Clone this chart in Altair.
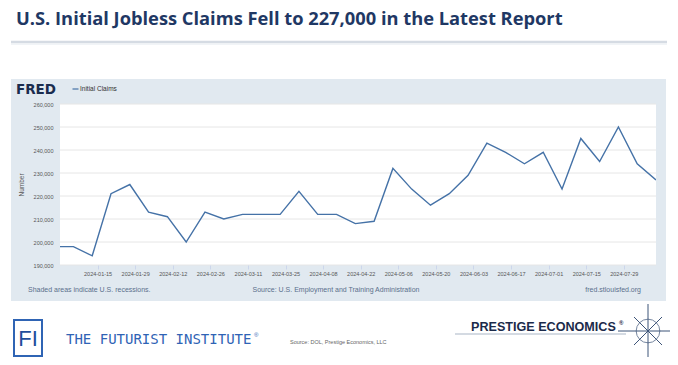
import altair as alt
import pandas as pd

# ---- data ----
dates = ["2023-12-30", "2024-01-06", "2024-01-13", "2024-01-20", "2024-01-27",
         "2024-02-03", "2024-02-10", "2024-02-17", "2024-02-24", "2024-03-02",
         "2024-03-09", "2024-03-16", "2024-03-23", "2024-03-30", "2024-04-06",
         "2024-04-13", "2024-04-20", "2024-04-27", "2024-05-04", "2024-05-11",
         "2024-05-18", "2024-05-25", "2024-06-01", "2024-06-08", "2024-06-15",
         "2024-06-22", "2024-06-29", "2024-07-06", "2024-07-13", "2024-07-20",
         "2024-07-27", "2024-08-03", "2024-08-10"]
claims = [198000, 198000, 194000, 221000, 225000,
          213000, 211000, 200000, 213000, 210000,
          212000, 212000, 212000, 222000, 212000,
          212000, 208000, 209000, 232000, 223000,
          216000, 221000, 229000, 243000, 239000,
          234000, 239000, 223000, 245000, 235000,
          250000, 234000, 227000]
y_ticks = [190000, 200000, 210000, 220000, 230000, 240000, 250000, 260000]
x_ticks = ["2024-01-15", "2024-01-29", "2024-02-12", "2024-02-26", "2024-03-11",
           "2024-03-25", "2024-04-08", "2024-04-22", "2024-05-06", "2024-05-20",
           "2024-06-03", "2024-06-17", "2024-07-01", "2024-07-15", "2024-07-29"]
x_domain = ["2024-01-01", "2024-08-10"]

title_text = "U.S. Initial Jobless Claims Fell to 227,000 in the Latest Report"


def dt(s):
    y, m, d = (int(p) for p in s.split("-"))
    return alt.DateTime(year=y, month=m, date=d, utc=True)


df = pd.DataFrame({"date": dates, "claims": claims})
grid_df = pd.DataFrame({"v": y_ticks})

W, H = 596, 161
SANS = "Liberation Sans, Arial, sans-serif"
PANEL = "#e1e9f0"
one = alt.Data(values=[{"k": 1}])


def txt(s, x, y, size, color, weight="normal", align="left", baseline="middle",
        font=SANS):
    return alt.Chart(one).mark_text(
        align=align, baseline=baseline, font=font, fontSize=size,
        color=color, fontWeight=weight
    ).encode(x=alt.value(x), y=alt.value(y), text=alt.value(s))


def rule(x, x2, y, y2, color, w=1.0):
    return alt.Chart(one).mark_rule(color=color, strokeWidth=w).encode(
        x=alt.value(x), x2=alt.value(x2), y=alt.value(y), y2=alt.value(y2))


def rect(x, x2, y, y2, fill, stroke=None, sw=0):
    kw = dict(fill=fill)
    if stroke:
        kw.update(stroke=stroke, strokeWidth=sw)
    return alt.Chart(one).mark_rect(**kw).encode(
        x=alt.value(x), x2=alt.value(x2), y=alt.value(y), y2=alt.value(y2))


xscale = alt.Scale(type="utc", domain=[dt(d) for d in x_domain])
yscale = alt.Scale(domain=[y_ticks[0], y_ticks[-1]], nice=False, zero=False)

y_axis = alt.Axis(values=y_ticks, format=",d", title="Number",
                  grid=False, domain=False, ticks=False, labelPadding=7,
                  labelFont=SANS, labelFontSize=5.5, labelColor="#555555",
                  titleFont=SANS, titleFontSize=6.5, titleFontWeight="normal",
                  titleColor="#555555", titleX=-39, titleY=H / 2,
                  titleAngle=-90, titleAlign="center", titleBaseline="middle",
                  zindex=1)
x_axis = alt.Axis(values=[dt(d) for d in x_ticks], format="%Y-%m-%d",
                  title=None, grid=False, domain=False,
                  tickColor="#ccd6eb", tickSize=4, labelPadding=2,
                  labelFont=SANS, labelFontSize=5.5, labelColor="#555555",
                  labelAngle=0, zindex=1)

panel = rect(-49, 606, -25, 197, PANEL)
plotbg = rect(0, W, 0, H, "#ffffff")

grid = alt.Chart(grid_df).mark_rule(color="#e6e6e6", strokeWidth=1).encode(
    y=alt.Y("v:Q", scale=yscale, axis=y_axis))

line = alt.Chart(df).mark_line(color="#4572a7", strokeWidth=1.4, clip=True).encode(
    x=alt.X("date:T", scale=xscale, axis=x_axis),
    y=alt.Y("claims:Q", scale=yscale, axis=y_axis),
)

layers = [
    panel, plotbg, grid, line,
    # slide title and divider
    txt(title_text, -44, -93.2, 18.3, "#1f3864", weight="bold",
        baseline="top", font="Liberation Sans Narrow, Open Sans, sans-serif"),
    rule(-49, 607, -62, -62, "#d5dbe3", 2.5),
    rule(-49, 607, -60, -60, "#edf0f4", 1.5),
    # FRED header
    txt("FRED", -44, -10, 13.5, "#1a2c4e", weight="bold", baseline="alphabetic",
        font="DejaVu Sans, sans-serif"),
    rule(12.5, 18.5, -15, -15, "#4572a7", 1.2),
    txt("Initial Claims", 20, -15, 6.5, "#333333"),
    # FRED footer notes
    txt("Shaded areas indicate U.S. recessions.", -32, 186, 7, "#5a6f8c"),
    txt("Source: U.S. Employment and Training Administration", 276, 186, 7,
        "#5a6f8c", align="center"),
    txt("fred.stlouisfed.org", 581, 186, 7, "#5a6f8c", align="right"),
    # slide footer
    rect(-46, -18, 216, 252, "#ffffff", stroke="#2f64b4", sw=2),
    txt("FI", -32, 235, 22, "#1f4e9c", align="center"),
    txt("THE FUTURIST INSTITUTE", 6, 236, 14, "#2f63b5",
        font="DejaVu Sans Mono, monospace"),
    txt("\u00ae", 194, 231, 6, "#2f63b5"),
    txt("Source: DOL, Prestige Economics, LLC", 230, 238, 5.5, "#666666"),
    txt("PRESTIGE ECONOMICS", 411, 223, 12.6, "#1b2a4a", weight="bold"),
    txt("\u00ae", 559, 219, 6, "#1b2a4a", weight="bold"),
    rule(395, 566, 230, 230, "#a9b5c6", 1.2),
    # compass mark
    rule(588, 588, 200, 256, "#3d5478", 1),
    rule(558, 614, 227, 227, "#3d5478", 1),
    rule(574, 602, 213, 241, "#3d5478", 1),
    rule(602, 574, 213, 241, "#3d5478", 1),
    alt.Chart(one).mark_point(shape="circle", size=560, filled=False,
                              color="#3d5478", strokeWidth=1).encode(
        x=alt.value(588), y=alt.value(227)),
]

chart = alt.layer(*layers).properties(
    width=W, height=H,
    autosize=alt.AutoSizeParams(type="none"),
    padding={"left": 52, "top": 96, "right": 14, "bottom": 92},
).configure_view(stroke=None)

chart.save("out.html", embed_options={"renderer": "svg", "actions": False})
